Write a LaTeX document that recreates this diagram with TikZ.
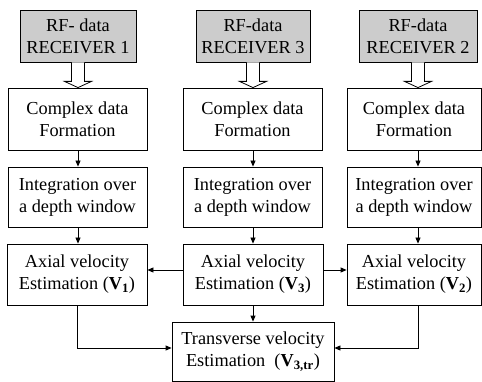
\documentclass[tikz,border=0pt]{standalone}
\usepackage{fontspec}
\setmainfont{Liberation Serif}
\usetikzlibrary{arrows.meta,calc}
\begin{document}
\begin{tikzpicture}[x=1pt,y=-1pt,
  box/.style={draw, line width=0.8pt, inner sep=0pt, align=center,
    font=\fontsize{18.3}{22}\selectfont},
  rfbox/.style={box, fill=gray!40},
  arr/.style={line width=0.8pt, -{Triangle[length=6pt,width=5pt]}},
  hollow/.style={draw, line width=0.8pt, fill=white, line join=miter}]
\useasboundingbox (0,0) rectangle (482,382);
% receivers
\node[rfbox, minimum width=116pt, minimum height=52pt] (rf1) at (78,36) {RF- data\\RECEIVER 1};
\node[rfbox, minimum width=114pt, minimum height=52pt] (rf3) at (253,36) {RF-data\\RECEIVER 3};
\node[rfbox, minimum width=118pt, minimum height=52pt] (rf2) at (418,36) {RF-data\\RECEIVER 2};
% complex data
\node[box, minimum width=139pt, minimum height=62pt] (cd1) at (77.5,119) {Complex data\\Formation};
\node[box, minimum width=139pt, minimum height=62pt] (cd3) at (252.5,119) {Complex data\\Formation};
\node[box, minimum width=134pt, minimum height=62pt] (cd2) at (414,119) {Complex data\\Formation};
% integration
\node[box, minimum width=139pt, minimum height=60pt] (in1) at (77.5,197) {Integration over\\a depth window};
\node[box, minimum width=139pt, minimum height=60pt] (in3) at (252.5,197) {Integration over\\a depth window};
\node[box, minimum width=134pt, minimum height=60pt] (in2) at (414,197) {Integration over\\a depth window};
% axial
\node[box, minimum width=140pt, minimum height=61pt] (ax1) at (77,274.5) {Axial velocity\\Estimation (\textbf{V}\textsubscript{\textbf{1}})};
\node[box, minimum width=140pt, minimum height=61pt] (ax3) at (253,274.5) {Axial velocity\\Estimation (\textbf{V}\textsubscript{\textbf{3}})};
\node[box, minimum width=134pt, minimum height=61pt] (ax2) at (414,274.5) {Axial velocity\\Estimation (\textbf{V}\textsubscript{\textbf{2}})};
% transverse
\node[box, minimum width=162pt, minimum height=59pt] (tr) at (253,351.5) {Transverse velocity\\Estimation\ \ (\textbf{V}\textsubscript{\textbf{3,tr}})};
% hollow arrows
\foreach \r/\c in {rf1/cd1, rf3/cd3, rf2/cd2}{
  \draw[hollow] ($(\r.south)+(-6.5,0)$) -- ++(0,19) -- ++(-7,0) -- (\c.north -| \r)
    -- ($(\r.south)+(13.5,19)$) -- ++(-7,0) -- ($(\r.south)+(6.5,0)$);
}
% small arrows
\foreach \a/\b/\r in {cd1/in1/rf1, cd3/in3/rf3, cd2/in2/rf2, in1/ax1/rf1, in3/ax3/rf3, in2/ax2/rf2}{
  \draw[arr] (\a.south -| \r) -- (\b.north -| \r);
}
\draw[arr] ($(ax3.west)+(0,-4.5)$) -- ($(ax1.east)+(0,-4.5)$);
\draw[arr] ($(ax3.east)+(0,-4.5)$) -- ($(ax2.west)+(0,-4.5)$);
\draw[arr] (ax3.south) -- (tr.north);
\draw[arr] (ax1.south) |- ($(tr.west)+(0,-3.5)$);
\draw[arr] (ax2.south -| rf2) |- ($(tr.east)+(0,-3.5)$);
\end{tikzpicture}
\end{document}
